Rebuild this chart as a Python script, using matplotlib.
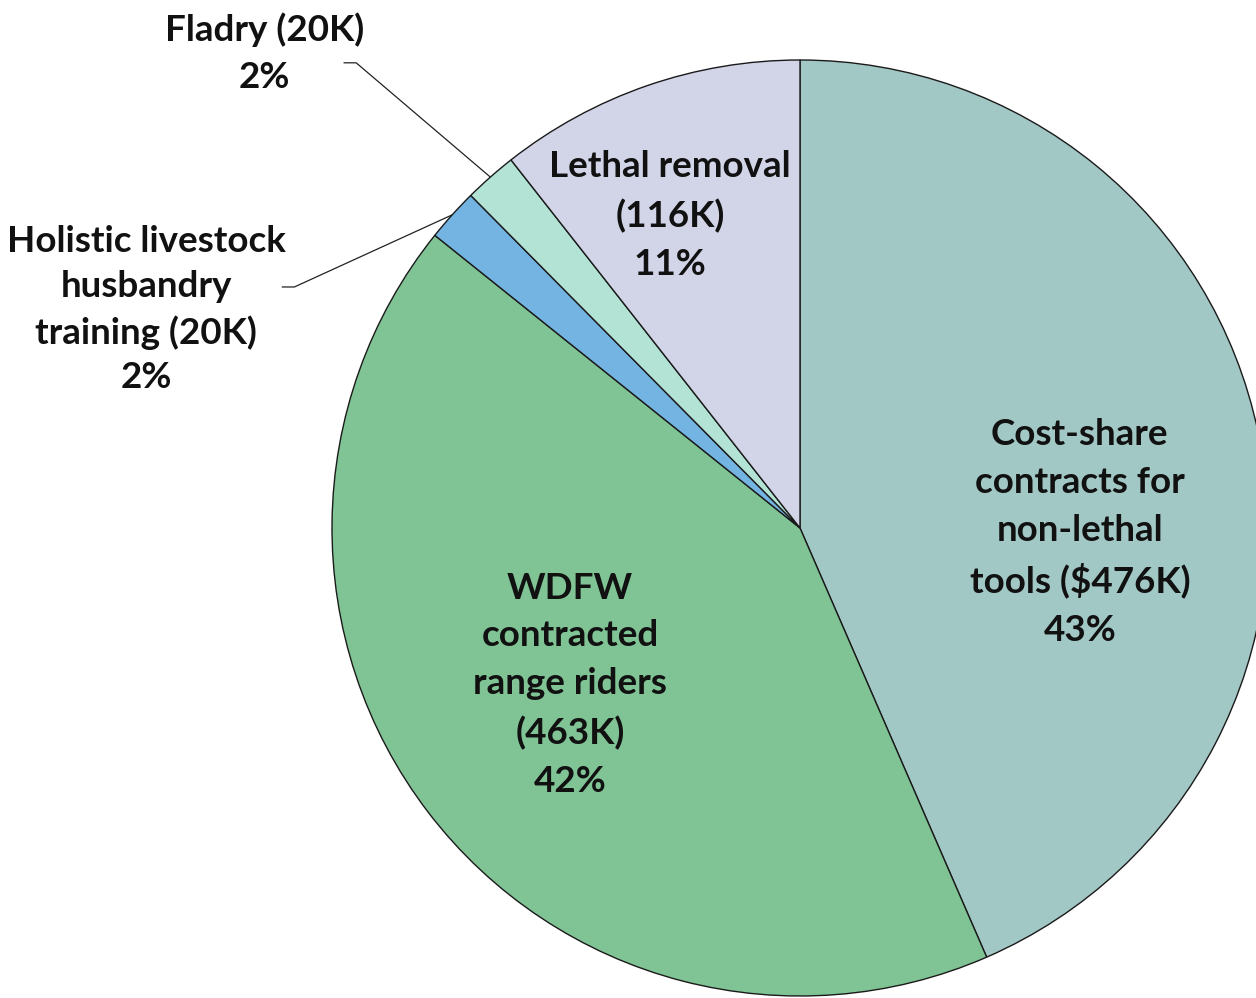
import numpy as np
import matplotlib.pyplot as plt

# data
names = ["Cost-share\ncontracts for\nnon-lethal\ntools ($476K)",
         "WDFW\ncontracted\nrange riders\n(463K)",
         "Holistic livestock\nhusbandry\ntraining (20K)",
         "Fladry (20K)",
         "Lethal removal\n(116K)"]
values = [476, 463, 20, 20, 116]
colors = ["#a2c8c5", "#80c495", "#74b4e2", "#b3e3d5", "#d2d5e8"]

pcts = [round(v / sum(values) * 100) for v in values]

plt.rcParams['font.family'] = ['Lato', 'DejaVu Sans']

fig = plt.figure(figsize=(12.56, 9.98), dpi=100)
ax = fig.add_axes([0, 0, 1, 1])

wedges, _ = ax.pie(values, colors=colors, startangle=90, counterclock=False,
                   radius=1.0, center=(0, 0),
                   wedgeprops=dict(edgecolor="#1a1a1a", linewidth=1.0))

# pixel scale: radius 468 px, centre at (800, 528) from top-left
ax.set_xlim(-800 / 468, (1256 - 800) / 468)
ax.set_ylim(-(998 - 528) / 468, 528 / 468)
ax.set_aspect('auto')
ax.axis('off')

# label centres (data units)
lab_pos = [(0.598, -0.009), (-0.491, -0.335), (-1.397, 0.466),
           (-1.145, 1.015), (-0.278, 0.667)]
spacing = [1.55, 1.55, 1.43, 1.52, 1.55]

for i, w in enumerate(wedges):
    txt = names[i] + "\n" + str(pcts[i]) + "%"
    ax.text(lab_pos[i][0], lab_pos[i][1], txt, ha='center', va='center',
            fontsize=26.5, fontweight='bold', linespacing=spacing[i],
            color="#111111")

# leader lines for the two small slices
leader_start = {2: (-1.106, 0.515), 3: (-0.974, 0.994)}
for i, (sx, sy) in leader_start.items():
    w = wedges[i]
    mid = np.deg2rad((w.theta1 + w.theta2) / 2)
    tx, ty = np.cos(mid), np.sin(mid)
    cx = sx + 12 / 468
    ax.plot([sx, cx, tx], [sy, sy, ty], color="#222222", lw=0.9,
            solid_joinstyle='miter', zorder=0.5)

fig.savefig("out.png", dpi=100, facecolor="white")
